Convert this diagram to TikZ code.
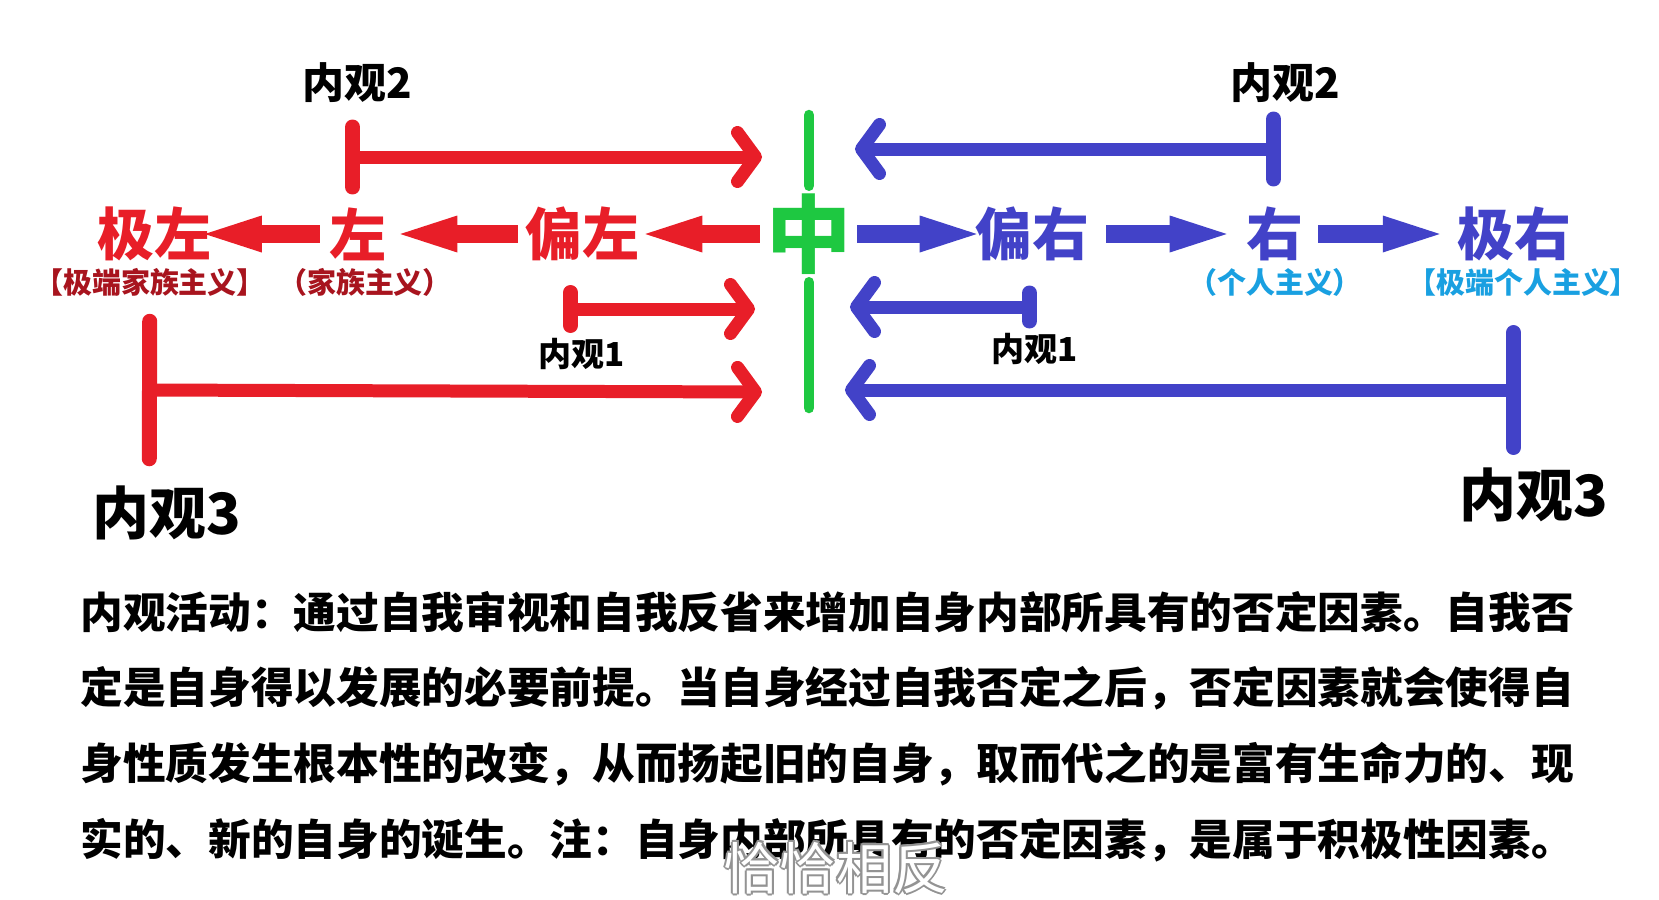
\documentclass[tikz,border=0pt]{standalone}
\usepackage{fontspec}
\setmainfont{Noto Sans CJK SC}
\usetikzlibrary{arrows.meta, positioning, calc}

\definecolor{zred}{RGB}{232,30,40}
\definecolor{zblue}{RGB}{66,66,200}
\definecolor{zgreen}{RGB}{30,200,65}
\definecolor{dred}{RGB}{168,20,30}
\definecolor{lblue}{RGB}{25,160,225}

\begin{document}
\begin{tikzpicture}[
  x=0.02cm, y=-0.02cm,
  every node/.style={inner sep=0pt, font=\bfseries},
  big/.style ={font=\fontsize{32.4}{34}\selectfont\bfseries},
  mid/.style ={font=\fontsize{48.4}{50}\selectfont\bfseries},
  sub/.style ={font=\fontsize{16.5}{18}\selectfont\bfseries},
  lab/.style ={font=\fontsize{23.9}{26}\selectfont\bfseries},
  labs/.style={font=\fontsize{18.8}{20}\selectfont\bfseries},
  labl/.style={font=\fontsize{32.4}{34}\selectfont\bfseries},
  txt/.style ={anchor=west, font=\fontsize{24.29}{26}\selectfont\bfseries},
  sttl/.style={font=\fontsize{31.9}{34}\selectfont\mdseries},
  blk/.style ={line width=0.36cm, -{Triangle[length=1.14cm, width=0.74cm, line width=0pt]}},
  brk/.style ={line width=0.26cm,
               {Bar[width=#1, line width=0.3cm, round]}-{Straight Barb[length=0.36cm, width=0.98cm, round]}},
  gline/.style={zgreen, line width=0.21cm, line cap=round},
]
\fill[white] (0,0) rectangle (1659,899);
\useasboundingbox (0,0) rectangle (1659,899);

% main row
\node[big, zred]   (jizuo)   at (154,234)  {极左};
\node[big, zred]   (zuo)     at (358,234)  {左};
\node[big, zred]   (pianzuo) at (582,234)  {偏左};
\node[mid, zgreen] (zhong)   at (809,234)  {中};
\node[big, zblue]  (pianyou) at (1032,234) {偏右};
\node[big, zblue]  (you)     at (1275,234) {右};
\node[big, zblue]  (jiyou)   at (1514,234) {极右};

\node[sub, dred]  (jzsub) at (150,282)  {【极端家族主义】};
\node[sub, dred]  (zsub)  at (365,282)  {（家族主义）};
\node[sub, lblue] (ysub)  at (1275,282) {（个人主义）};
\node[sub, lblue] (jysub) at (1523,282) {【极端个人主义】};

\draw[blk, zred, shorten <=0.19cm, shorten >=-0.13cm] (zuo) -- (jizuo);
\draw[blk, zred, shorten <=0.14cm, shorten >=0.27cm]  (pianzuo) -- (zuo);
\draw[blk, zred, shorten <=0.13cm, shorten >=0.12cm]  (zhong) -- (pianzuo);
\draw[blk, zblue, shorten <=0.11cm, shorten >=-0.04cm] (zhong) -- (pianyou);
\draw[blk, zblue, shorten <=0.34cm, shorten >=0.39cm]  (pianyou) -- (you);
\draw[blk, zblue, shorten <=0.29cm, shorten >=0.34cm]  (you) -- (jiyou);

% centre line
\coordinate (gtop) at (809,115);
\coordinate (gbot) at (809,408);
\draw[gline, shorten >=0.15cm] (gtop) -- (zhong);
\draw[gline, shorten <=0.15cm] (zhong) -- (gbot);

% introspection brackets
\node[lab]  (n2l) at (357,83)   {内观2};
\node[lab]  (n2r) at (1285,83)  {内观2};
\node[labs] (n1l) at (582,354)  {内观1};
\node[labs] (n1r) at (1035,349) {内观1};
\node[labl] (n3l) at (167,513)  {内观3};
\node[labl] (n3r) at (1534,495) {内观3};

\coordinate (r2a) at (345,157);  \coordinate (r2b) at (762,157);
\coordinate (b2a) at (1281,149); \coordinate (b2b) at (855,149);
\coordinate (r1a) at (563,309);  \coordinate (r1b) at (755,309);
\coordinate (b1a) at (1037,307); \coordinate (b1b) at (850,307);
\coordinate (r3a) at (142,390);  \coordinate (r3b) at (762,392);
\coordinate (b3a) at (1521,390); \coordinate (b3b) at (845,390);

\draw[brk=1.2cm, zred]  (r2a) -- (r2b);
\draw[brk=1.2cm, zblue] (b2a) -- (b2b);
\draw[brk=0.66cm, zred]  (r1a) -- (r1b);
\draw[brk=0.56cm, zblue] (b1a) -- (b1b);
\draw[brk=2.75cm, zred]  (r3a) -- (r3b);
\draw[brk=2.3cm, zblue] (b3a) -- (b3b);

% note
\node[txt] (p1) at (80,612) {内观活动：通过自我审视和自我反省来增加自身内部所具有的否定因素。自我否};
\node[txt] (p2) at (80,688) {定是自身得以发展的必要前提。当自身经过自我否定之后，否定因素就会使得自};
\node[txt] (p3) at (80,764) {身性质发生根本性的改变，从而扬起旧的自身，取而代之的是富有生命力的、现};
\node[txt] (p4) at (80,840) {实的、新的自身的诞生。注：自身内部所具有的否定因素，是属于积极性因素。};

% subtitle
\foreach \dx/\dy [count=\i] in {-2/0, 2/0, 0/-2, 0/2, -1.4/-1.4, 1.4/-1.4, -1.4/1.4, 1.4/1.4}
  \node[sttl, gray!85] (st\i) at ($(836,868)+(\dx,\dy)$) {恰恰相反};
\node[sttl, white] (st) at (836,868) {恰恰相反};
\end{tikzpicture}
\end{document}
